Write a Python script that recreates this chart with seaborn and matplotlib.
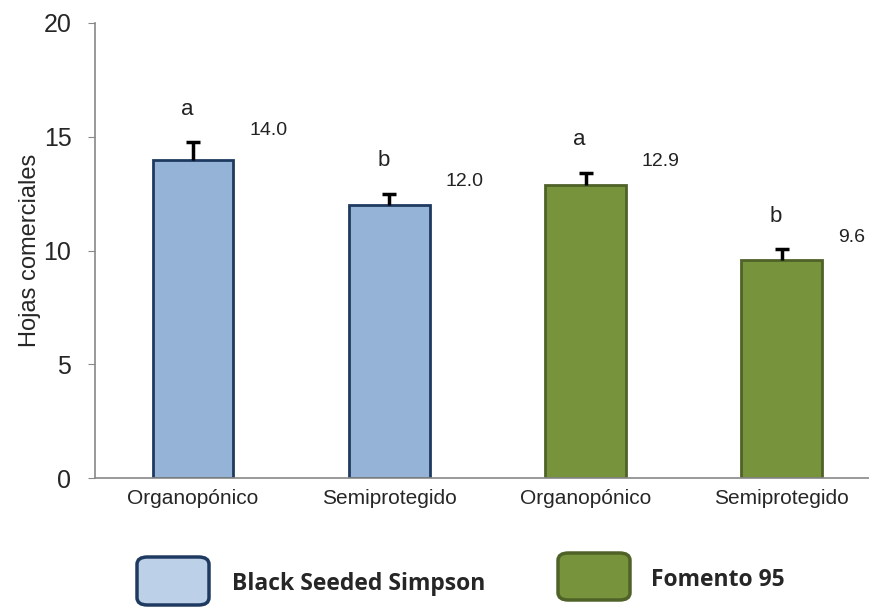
import pandas as pd
import matplotlib.pyplot as plt
import seaborn as sns
from matplotlib.patches import FancyBboxPatch

sistemas   = ['Organopónico', 'Semiprotegido', 'Organopónico', 'Semiprotegido']
cultivares = ['Black Seeded Simpson', 'Black Seeded Simpson', 'Fomento 95', 'Fomento 95']
hojas      = [14.0, 12.0, 12.9, 9.6]
errores    = [0.75, 0.5, 0.5, 0.45]
letras     = ['a', 'b', 'a', 'b']

fill_cols = {'Black Seeded Simpson': '#95B3D7', 'Fomento 95': '#77933C'}
edge_cols = {'Black Seeded Simpson': '#1F3A60', 'Fomento 95': '#4F6228'}
legend_fill = {'Black Seeded Simpson': '#BCD0E8', 'Fomento 95': '#77933C'}

df = pd.DataFrame({'pos': [str(i) for i in range(len(hojas))],
                   'sistema': sistemas, 'cultivar': cultivares, 'hojas': hojas})

sns.set_style('white')
plt.rcParams['font.family'] = ['Liberation Sans', 'DejaVu Sans']

fig = plt.figure(figsize=(8.7, 6.08), dpi=100)
ax = fig.add_axes([95 / 870, 130 / 608, 1 - 95 / 870, 455 / 608])

sns.barplot(data=df, x='pos', y='hojas', hue='cultivar', palette=fill_cols,
            dodge=False, width=0.41, saturation=1, legend=False, ax=ax)
for bar, c in zip(ax.patches, cultivares):
    bar.set_edgecolor(edge_cols[c])
    bar.set_linewidth(2)

xs = list(range(len(hojas)))
tops = [v + e for v, e in zip(hojas, errores)]
ax.vlines(xs, hojas, tops, color='black', linewidth=2.5, zorder=3)
ax.scatter(xs, tops, marker='_', s=90, linewidths=2.5, color='black', zorder=3)
for x, t, v, l in zip(xs, tops, hojas, letras):
    ax.text(x - 0.03, t + 1.0, l, ha='center', va='bottom', fontsize=16, color='#222222')
    ax.text(x + 0.285, t + 0.15, f'{v:.1f}', ha='left', va='bottom', fontsize=14, color='#222222')

ax.set_ylim(0, 20)
ax.set_xlim(-0.5, 3.45)
ax.set_yticks([0, 5, 10, 15, 20])
ax.set_xticks(xs)
ax.set_xticklabels(sistemas, fontsize=15)
ax.tick_params(axis='y', labelsize=18, length=5, color='#888888', direction='out', left=True, pad=12)
ax.tick_params(axis='x', length=0, pad=8)
ax.set_xlabel('')
ax.set_ylabel('Hojas comerciales', fontsize=17, labelpad=2)
for s in ['top', 'right']:
    ax.spines[s].set_visible(False)
for s in ['left', 'bottom']:
    ax.spines[s].set_color('#888888')
    ax.spines[s].set_linewidth(1.2)

# legend drawn below the axes with rounded boxes
leg_boxes = [(137, 557, 72, 48), (558, 553, 72, 47)]
leg_text_x = [232, 651]
for (bx, by, bw, bh), tx, c in zip(leg_boxes, leg_text_x, ['Black Seeded Simpson', 'Fomento 95']):
    fig.patches.append(FancyBboxPatch((bx / 870, 1 - (by + bh) / 608), bw / 870, bh / 608,
                                      boxstyle='round,pad=0,rounding_size=0.012',
                                      transform=fig.transFigure, facecolor=legend_fill[c],
                                      edgecolor=edge_cols[c], linewidth=2.5))
    fig.text(tx / 870, 1 - (by + bh / 2 + 3) / 608, c, ha='left', va='center',
             fontsize=16.5, fontweight='bold', family=['Open Sans', 'DejaVu Sans'])

fig.savefig('out.png', dpi=100)
